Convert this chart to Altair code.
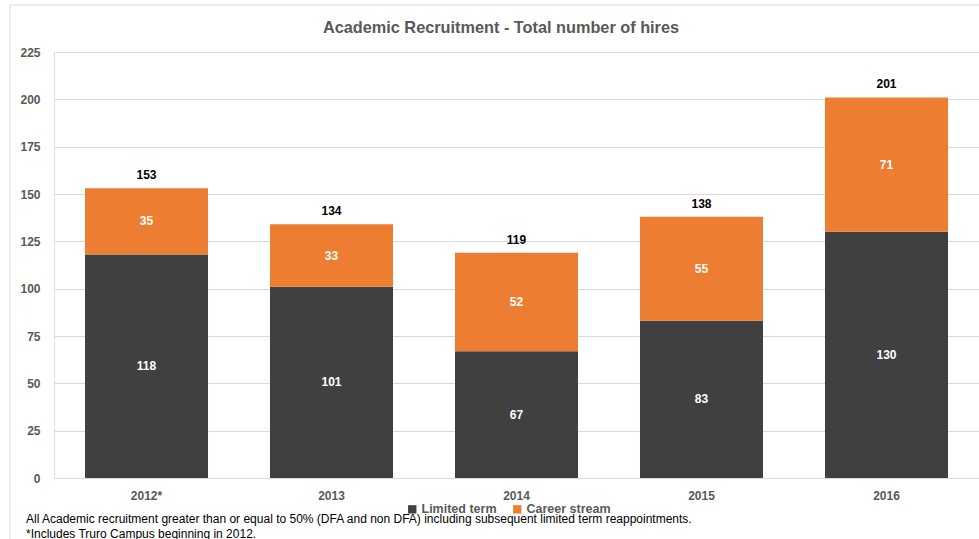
import altair as alt
import pandas as pd

years = ["2012*", "2013", "2014", "2015", "2016"]
limited = [118, 101, 67, 83, 130]
career = [35, 33, 52, 55, 71]
series_names = ["Limited term", "Career stream"]
colors = ["#404040", "#ED7D31"]
footnotes = [
    "All Academic recruitment greater than or equal to 50% (DFA and non DFA) including subsequent limited term reappointments.",
    "*Includes Truro Campus beginning in 2012.",
]
title_text = "Academic Recruitment - Total number of hires"

rows = []
for y, l, c in zip(years, limited, career):
    rows.append({"year": y, "series": series_names[0], "value": l, "order": 0})
    rows.append({"year": y, "series": series_names[1], "value": c, "order": 1})
df = pd.DataFrame(rows)
totals = pd.DataFrame({"year": years, "total": [l + c for l, c in zip(limited, career)]})
notes = pd.DataFrame({"note": footnotes, "i": [0, 1]})
title_df = pd.DataFrame({"t": [title_text]})

FONT = "Liberation Sans"
GRAY = "#595959"

xenc = alt.X("year:N", sort=years, title=None,
             scale=alt.Scale(paddingInner=0.335, paddingOuter=0.1675),
             axis=alt.Axis(labelAngle=0, ticks=False, domain=False, labelFont=FONT,
                           labelFontSize=12, labelFontWeight="bold", labelColor=GRAY,
                           labelPadding=12))
yscale = alt.Scale(domain=[0, 225], nice=False)

bars = alt.Chart(df).mark_bar().encode(
    x=xenc,
    y=alt.Y("value:Q", stack="zero", scale=yscale, title=None,
            axis=alt.Axis(values=list(range(0, 226, 25)), ticks=False, domain=False,
                          gridColor="#d9d9d9", gridWidth=1, labelFont=FONT,
                          labelFontSize=12, labelFontWeight="bold", labelColor=GRAY,
                          labelPadding=14)),
    color=alt.Color("series:N", sort=series_names,
                    scale=alt.Scale(domain=series_names, range=colors),
                    legend=alt.Legend(title=None, orient="none", direction="horizontal",
                                      legendX=352, legendY=451, symbolType="square",
                                      symbolSize=70, symbolStrokeWidth=0,
                                      labelFont=FONT, labelFontSize=12.5,
                                      labelFontWeight="bold", labelColor=GRAY,
                                      columnPadding=14, symbolOffset=0, labelOffset=3)),
    order=alt.Order("order:Q"),
)

seg_labels = alt.Chart(df).transform_stack(
    stack="value", as_=["y0", "y1"], groupby=["year"], sort=[alt.SortField("order")]
).transform_calculate(mid="(datum.y0 + datum.y1) / 2").mark_text(
    color="white", font=FONT, fontSize=12, fontWeight="bold", baseline="middle"
).encode(x=xenc, y=alt.Y("mid:Q", scale=yscale, axis=None), text="value:Q")

tot_labels = alt.Chart(totals).mark_text(
    color="black", font=FONT, fontSize=12, fontWeight="bold", baseline="middle", dy=-13
).encode(x=xenc, y=alt.Y("total:Q", scale=yscale, axis=None), text="total:Q")

note_marks = alt.Chart(notes).mark_text(
    align="left", baseline="middle", font=FONT, fontSize=12, color="black"
).encode(
    x=alt.value(-28),
    y=alt.Y("i:Q", scale=alt.Scale(domain=[0, 1], range=[467, 482]), axis=None),
    text="note:N",
)

title_mark = alt.Chart(title_df).mark_text(
    align="center", baseline="middle", font=FONT, fontSize=16.3, fontWeight="bold", color=GRAY
).encode(x=alt.value(447), y=alt.value(-24), text="t:N")

border = alt.Chart(title_df).mark_rect(fill=None, stroke="#d9d9d9", strokeWidth=1).encode(
    x=alt.value(-44), x2=alt.value(940), y=alt.value(-47), y2=alt.value(510)
)

chart = alt.layer(border, bars, seg_labels, tot_labels, note_marks, title_mark).resolve_scale(
    y="independent"
).properties(
    width=925, height=426,
    autosize=alt.AutoSizeParams(type="none"),
    padding={"left": 54, "top": 52, "right": 0, "bottom": 61},
).configure_view(stroke=None).configure(background="white")

chart.save("out.html", embed_options={"renderer": "svg", "actions": False})
